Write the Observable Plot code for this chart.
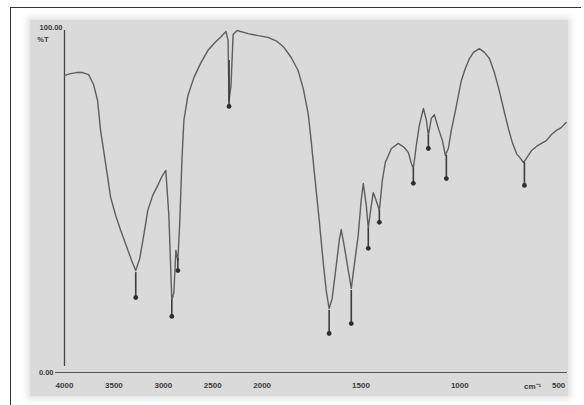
<!DOCTYPE html>
<html>
<head>
<meta charset="utf-8">
<script src="https://cdn.jsdelivr.net/npm/d3@7"></script>
<script src="https://cdn.jsdelivr.net/npm/@observablehq/plot@0.6"></script>
<style>
  html, body { margin: 0; padding: 0; background: #fff; }
  #wrap { position: relative; width: 584px; height: 405px; overflow: hidden; }
  #frame { position: absolute; left: 10px; top: 7px; width: 570px; height: 400px;
           border-top: 1.5px solid #333; border-left: 1.5px solid #333; }
  #panel { position: absolute; left: 30px; top: 20px; width: 538px; height: 376px;
           background: #dadada; box-shadow: 0 0 6px 3px #e2e2e2; }
  #chart { position: absolute; left: 0; top: 0; }
</style>
</head>
<body>
<div id="wrap">
  <div id="frame"></div>
  <div id="panel"></div>
  <div id="chart"></div>
</div>
<script>
// IR spectrum: wavenumber (cm-1) vs transmittance (%T)
const wavenumber = [4000,3939,3878,3817,3756,3706,3665,3635,3584,3533,3482,3431,3371,3320,3279,3239,3198,3157,3107,3056,3015,2975,2944,2914,2893,2873,2853,2833,2812,2792,2751,2690,2619,2548,2477,2416,2366,2345,2335,2315,2294,2254,2142,2041,1970,1924,1889,1853,1818,1792,1767,1752,1737,1711,1691,1676,1661,1646,1625,1610,1600,1585,1564,1549,1534,1514,1499,1488,1473,1463,1448,1438,1423,1407,1392,1377,1346,1311,1281,1260,1245,1235,1220,1205,1184,1169,1159,1144,1129,1108,1088,1073,1058,1043,1022,1007,992,972,951,931,901,875,850,825,804,779,754,733,713,693,678,663,637,612,587,562,536,511,487,462];
const transmittance = [86.8,87.4,87.7,87.7,87.1,84.2,79.5,70.8,61.1,51.2,45.9,41.5,36.8,32.7,29.8,33.3,40.1,47.4,51.8,54.7,57.3,59.1,45.9,21.1,23.4,35.7,32.7,44.4,62.0,73.7,81.0,86.3,90.6,94.2,96.5,98.2,99.7,97.1,79.5,83.9,98.8,100,99.1,98.5,98.0,96.8,95.0,92.1,88.3,83.0,75.7,67.8,59.1,44.4,32.2,24.0,18.7,21.6,31.3,38.6,41.8,37.1,29.8,24.6,31.3,40.1,50.3,55.3,48.8,42.1,48.8,52.6,50.3,47.4,56.1,61.4,65.5,67.0,65.8,64.3,61.1,59.7,66.4,72.2,77.2,73.7,69.3,74.3,75.4,71.3,67.8,63.5,65.5,70.8,76.6,81.0,85.4,88.9,91.8,93.6,94.7,93.6,91.8,87.7,83.3,77.2,71.3,67.0,64.0,62.6,61.4,62.6,64.9,66.1,67.0,67.8,69.6,70.8,71.6,73.1];

// peak pick markers
const peakWn = [3279,2914,2853,2335,1661,1549,1463,1407,1235,1159,1068,673];
const peakTop = [29.2,21.1,33.3,91.2,18.1,24.0,42.1,47.4,59.7,69.3,63.5,61.4];
const peakBottom = [21.9,16.4,29.8,77.8,11.4,14.3,36.3,43.9,55.3,65.5,56.7,54.7];

const xTicks = [4000,3500,3000,2500,2000,1500,1000,500];
const yLabels = ["100.00", "%T", "0.00"];
const unitLabel = "cm⁻¹";

const spectrum = wavenumber.map((w, i) => ({w, t: transmittance[i]}));
const peaks = peakWn.map((w, i) => ({w, top: peakTop[i], bottom: peakBottom[i]}));

const ink = "#3a3a3a";

// IR convention: the axis is expanded twofold below 2000 cm-1
const irAxis = w => (w >= 2000 ? 4000 - w : 6000 - 2 * w);

const chart = Plot.plot({
  width: 584,
  height: 405,
  marginTop: 30,
  marginBottom: 33,
  marginLeft: 55,
  marginRight: 17,
  style: {background: "transparent", fontFamily: "Liberation Sans, Arial, sans-serif"},
  x: {transform: irAxis, domain: [0, 5100], range: [64, 568]},
  y: {domain: [0, 100], range: [372, 30], axis: null},
  marks: [
    Plot.ruleY([0], {stroke: "#555", strokeWidth: 1.2}),
    Plot.ruleX([4000], {y1: 0, y2: 100, stroke: "#444", strokeWidth: 1.3, insetTop: -6}),
    Plot.axisX(xTicks, {tickSize: 0, tickPadding: 10, fontSize: 8, fontWeight: "bold", fill: ink, tickFormat: d => String(d), label: null}),
    Plot.text([500], {x: d => d, y: 0, text: () => unitLabel, dx: -26, dy: 14, fontSize: 8, fontWeight: "bold", fill: ink}),
    Plot.text([yLabels[0]], {x: 4000, y: 100, text: d => d, textAnchor: "end", dx: -2, dy: -3, fontSize: 7.5, fontWeight: "bold", fill: ink}),
    Plot.text([yLabels[1]], {x: 4000, y: 100, text: d => d, textAnchor: "end", dx: -16, dy: 9, fontSize: 7.5, fontWeight: "bold", fill: ink}),
    Plot.text([yLabels[2]], {x: 4000, y: 0, text: d => d, textAnchor: "end", dx: -11, dy: 0, fontSize: 7.5, fontWeight: "bold", fill: ink}),
    Plot.line(spectrum, {x: "w", y: "t", stroke: "#5e5e5e", strokeWidth: 1.4}),
    Plot.ruleX(peaks, {x: "w", y1: "top", y2: "bottom", stroke: "#3c3c3c", strokeWidth: 1.6}),
    Plot.dot(peaks, {x: "w", y: "bottom", r: 2.4, fill: "#2e2e2e", stroke: "none"})
  ]
});
document.getElementById("chart").appendChild(chart);
</script>
</body>
</html>
